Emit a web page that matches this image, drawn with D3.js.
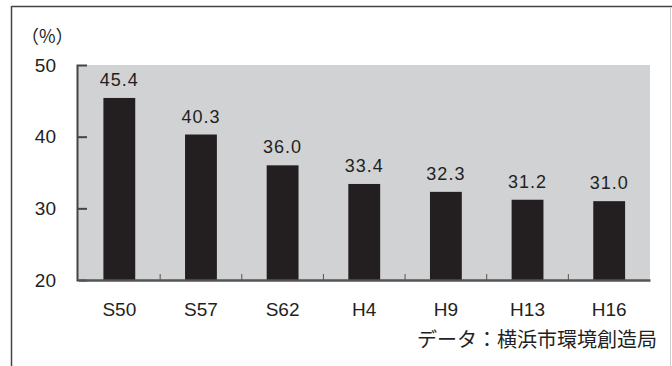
<!DOCTYPE html>
<html>
<head>
<meta charset="utf-8">
<script src="https://cdn.jsdelivr.net/npm/d3@7"></script>
<style>
  body { margin: 0; background: #fff; }
  svg text { font-family: "Liberation Sans", Arial, "Noto Sans CJK JP", sans-serif; fill: #231f20; }
</style>
</head>
<body>
<svg id="chart" width="672" height="366"></svg>
<script>
// 横浜市 ごみ中の割合 (%)
var years = ["S50", "S57", "S62", "H4", "H9", "H13", "H16"];
var values = [45.4, 40.3, 36.0, 33.4, 32.3, 31.2, 31.0];
var yTicks = [20, 30, 40, 50];

var svg = d3.select("#chart");
var plotLeft = 77, plotRight = 650, plotTop = 65, plotBottom = 280;

// frame round the figure
svg.append("line").attr("x1", 11.5).attr("x2", 672).attr("y1", 6.5).attr("y2", 6.5)
  .attr("stroke", "#444").attr("stroke-width", 1.5);
svg.append("line").attr("x1", 11.5).attr("x2", 11.5).attr("y1", 6).attr("y2", 366)
  .attr("stroke", "#444").attr("stroke-width", 1.5);
svg.append("line").attr("x1", 670.5).attr("x2", 670.5).attr("y1", 7).attr("y2", 366)
  .attr("stroke", "#ccc").attr("stroke-width", 1);

var x = d3.scaleBand().domain(years).range([78.5, 650])
  .paddingInner(0.61).paddingOuter(0.305);
var y = d3.scaleLinear().domain([20, 50]).range([plotBottom, plotTop]);

// grey plot area
svg.append("rect").attr("x", plotLeft).attr("y", plotTop)
  .attr("width", plotRight - plotLeft).attr("height", plotBottom - plotTop)
  .attr("fill", "#d1d2d4");

// bars
svg.append("g").selectAll("rect").data(values).join("rect")
  .attr("x", (d, i) => x(years[i]))
  .attr("y", d => y(d))
  .attr("width", x.bandwidth())
  .attr("height", d => y(20) - y(d))
  .attr("fill", "#231f20");

// value labels
svg.append("g").selectAll("text").data(values).join("text")
  .attr("x", (d, i) => x(years[i]) + x.bandwidth() / 2)
  .attr("y", d => y(d) - 12)
  .attr("text-anchor", "middle")
  .attr("font-size", 18)
  .attr("letter-spacing", 1)
  .text(d => d.toFixed(1));

// y axis
var yAxis = svg.append("g").attr("transform", "translate(" + plotLeft + ",0)")
  .call(d3.axisLeft(y).tickValues(yTicks).tickSize(-10).tickPadding(21));
yAxis.select(".domain").attr("stroke", "#444").attr("stroke-width", 2);
yAxis.selectAll(".tick line").attr("stroke", "#444").attr("stroke-width", 2)
  .filter(d => d == 20 || d == 50).remove();
yAxis.selectAll(".tick text").attr("font-size", 19);

// x axis
var xAxis = svg.append("g").attr("transform", "translate(0," + plotBottom + ")")
  .call(d3.axisBottom(x).tickSize(0).tickPadding(23));
xAxis.select(".domain").attr("stroke", "#555").attr("stroke-width", 2.5);
xAxis.selectAll(".tick text").attr("font-size", 19);
// small ticks between the bars
var step = x.step();
svg.append("g").selectAll("line").data(years.slice(1)).join("line")
  .attr("x1", d => x(d) - step * x.paddingInner() / 2)
  .attr("x2", d => x(d) - step * x.paddingInner() / 2)
  .attr("y1", plotBottom).attr("y2", plotBottom - 6)
  .attr("stroke", "#555").attr("stroke-width", 1);

svg.append("text").attr("x", 21).attr("y", 43)
  .attr("font-size", 18)
  .style("font-family", "'Noto Sans CJK JP', sans-serif")
  .text("（%）");

svg.append("text").attr("x", 657).attr("y", 347)
  .attr("text-anchor", "end").attr("font-size", 20)
  .style("font-family", "'Noto Sans CJK JP', sans-serif")
  .attr("fill", "#333").text("データ：横浜市環境創造局");
</script>
</body>
</html>
